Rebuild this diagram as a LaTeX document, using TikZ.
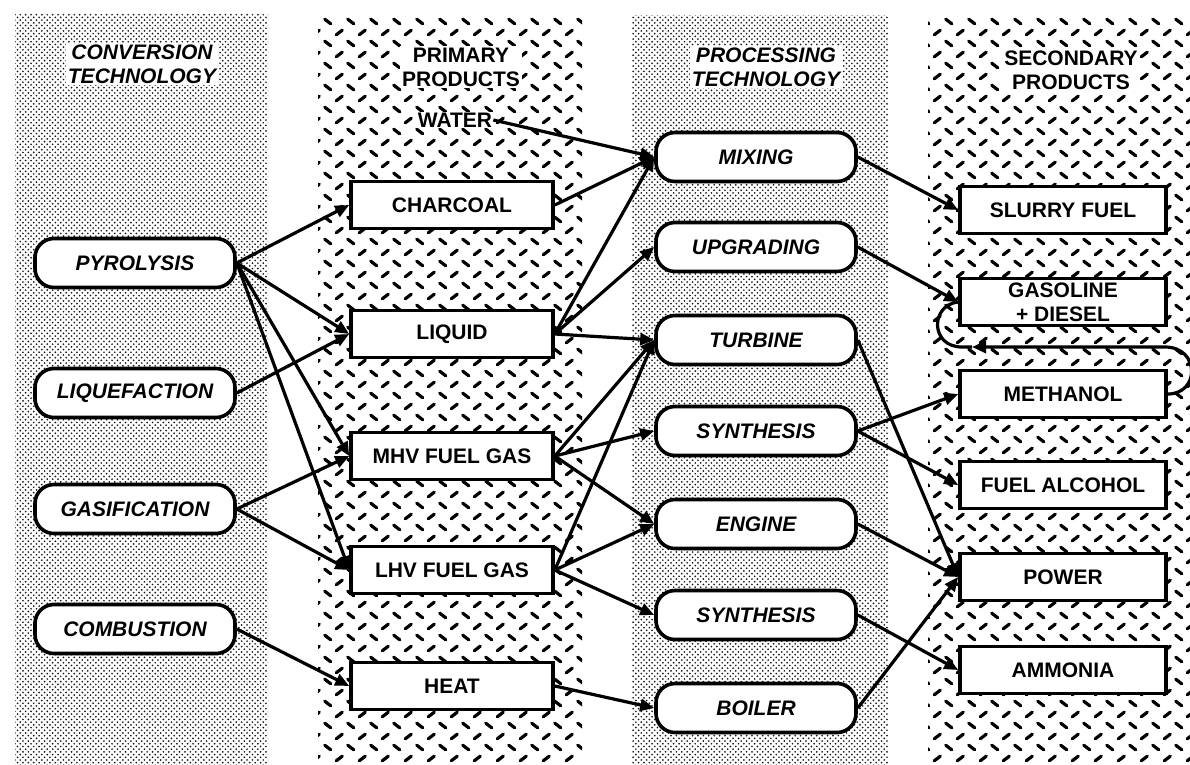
\documentclass[tikz,border=0pt]{standalone}
\usepackage{fontspec}
\setmainfont{Liberation Sans}
\usetikzlibrary{arrows.meta,patterns}

% halftone-like dot screen
\pgfdeclarepatternformonly{stipple}{\pgfpoint{-1pt}{-1pt}}{\pgfpoint{6.2pt}{6.2pt}}{\pgfpoint{5.4pt}{5.4pt}}{%
  \pgfpathcircle{\pgfpoint{1.35pt}{1.35pt}}{0.95pt}%
  \pgfpathcircle{\pgfpoint{4.05pt}{4.05pt}}{0.95pt}%
  \pgfusepath{fill}}

% checker-plate strokes: rows of "\" alternating with rows of "/"
\pgfdeclarepatternformonly{plate}{\pgfpoint{-2pt}{-2pt}}{\pgfpoint{25pt}{24pt}}{\pgfpoint{23pt}{22pt}}{%
  \pgfsetlinewidth{3.2pt}\pgfsetroundcap
  \pgfpathmoveto{\pgfpoint{2.75pt}{18.8pt}}\pgfpathlineto{\pgfpoint{8.75pt}{14.2pt}}%
  \pgfpathmoveto{\pgfpoint{14.25pt}{3.2pt}}\pgfpathlineto{\pgfpoint{20.25pt}{7.8pt}}%
  \pgfusepath{stroke}}

\tikzset{
  txt/.style={font=\bfseries\fontsize{21}{24}\selectfont},
  itxt/.style={font=\bfseries\itshape\fontsize{21}{24}\selectfont},
  tech/.style={itxt, draw, line width=3.6pt, rounded corners=19pt, fill=white,
    minimum width=200pt, minimum height=49pt, inner sep=0pt},
  prod/.style={txt, draw, line width=3.6pt, fill=white,
    minimum width=202pt, minimum height=47pt, inner sep=0pt, align=center},
  head/.style={fill=white, inner sep=2pt, align=center},
  arr/.style={line width=3.2pt, -{Triangle[length=14pt,width=12pt]}},
  link/.style={line width=3.2pt},
}

\begin{document}
\begin{tikzpicture}[x=1pt, y=-1pt]
\useasboundingbox (0,0) rectangle (1190,764);
\fill[white] (0,0) rectangle (1190,764);

% column backgrounds
\fill[pattern=stipple, pattern color=black!90] (15,13) rectangle (268,764);
\fill[pattern=plate] (318,15) rectangle (582,764);
\fill[pattern=stipple, pattern color=black!90] (632,15) rectangle (888,764);
\fill[pattern=plate] (928,15) rectangle (1190,764);

% column headings
\node[head, itxt] (h1) at (142,64) {CONVERSION\\TECHNOLOGY};
\node[head, txt]  (h2) at (461,67) {PRIMARY\\PRODUCTS};
\node[head, itxt] (h3) at (766,67) {PROCESSING\\TECHNOLOGY};
\node[head, txt]  (h4) at (1071,70) {SECONDARY\\PRODUCTS};

% conversion technology
\node[tech] (pyr)  at (135,263) {PYROLYSIS};
\node[tech] (liq)  at (135,393) {LIQUEFACTION};
\node[tech] (gas)  at (135,509) {GASIFICATION};
\node[tech] (comb) at (135,629) {COMBUSTION};

% primary products
\node[head, txt, inner sep=1pt] (water) at (455,120) {WATER};
\node[prod] (char)   at (452,205) {CHARCOAL};
\node[prod] (liquid) at (452,334) {LIQUID};
\node[prod] (mhv)    at (452,456) {MHV FUEL GAS};
\node[prod] (lhv)    at (452,570) {LHV FUEL GAS};
\node[prod] (heat)   at (452,686) {HEAT};

% processing technology
\node[tech] (mix)  at (756,157) {MIXING};
\node[tech] (upg)  at (756,247) {UPGRADING};
\node[tech] (turb) at (756,340) {TURBINE};
\node[tech] (syna) at (756,431) {SYNTHESIS};
\node[tech] (eng)  at (756,524) {ENGINE};
\node[tech] (synb) at (756,615) {SYNTHESIS};
\node[tech] (boil) at (756,708) {BOILER};

% secondary products
\node[prod, minimum width=206pt] (slurry) at (1063,210) {SLURRY FUEL};
\node[prod, minimum width=206pt, font=\bfseries\fontsize{21}{24}\selectfont] (gasol) at (1063,302) {GASOLINE\\+ DIESEL};
\node[prod, minimum width=206pt] (meth)   at (1063,394) {METHANOL};
\node[prod, minimum width=206pt] (alc)    at (1063,485) {FUEL ALCOHOL};
\node[prod, minimum width=206pt] (power)  at (1063,577) {POWER};
\node[prod, minimum width=206pt] (amm)    at (1063,670) {AMMONIA};

% conversion -> primary products
\draw[arr] (pyr.east) -- (char.west);
\draw[arr] (pyr.east) -- (liquid.west);
\draw[arr] (pyr.east) -- (mhv.west);
\draw[arr] (pyr.east) -- (lhv.west);
\draw[arr] (liq.east) -- (liquid.west);
\draw[arr] (gas.east) -- (mhv.west);
\draw[arr] (gas.east) -- (lhv.west);
\draw[arr] (comb.east) -- (heat.west);

% primary products -> processing
\draw[arr] (water.east) -- (mix.west);
\draw[arr] (char.east) -- (mix.west);
\draw[arr] (liquid.east) -- (mix.west);
\draw[arr] (liquid.east) -- (upg.west);
\draw[arr] (liquid.east) -- (turb.west);
\draw[arr] (mhv.east) -- (turb.west);
\draw[arr] (mhv.east) -- (syna.west);
\draw[arr] (mhv.east) -- (eng.west);
\draw[arr] (lhv.east) -- (turb.west);
\draw[arr] (lhv.east) -- (eng.west);
\draw[arr] (lhv.east) -- (synb.west);
\draw[arr] (heat.east) -- (boil.west);

% processing -> secondary products
\draw[arr] (mix.east) -- (slurry.west);
\draw[arr] (upg.east) -- (gasol.west);
\draw[arr] (turb.east) -- (power.west);
\draw[arr] (syna.east) -- (meth.west);
\draw[arr] (syna.east) -- (alc.west);
\draw[arr] (eng.east) -- (power.west);
\draw[arr] (synb.east) -- (amm.west);
\draw[arr] (boil.east) -- (power.west);

% methanol recycled to gasoline + diesel
\coordinate (loopmid) at (972,347);
\draw[arr] (meth.east) .. controls (1200,394) and (1200,347) .. (1165,347) -- (loopmid);
\draw[link] (loopmid) -- (962,347) .. controls (930,347) and (930,305) .. (gasol.west);
\end{tikzpicture}
\end{document}
